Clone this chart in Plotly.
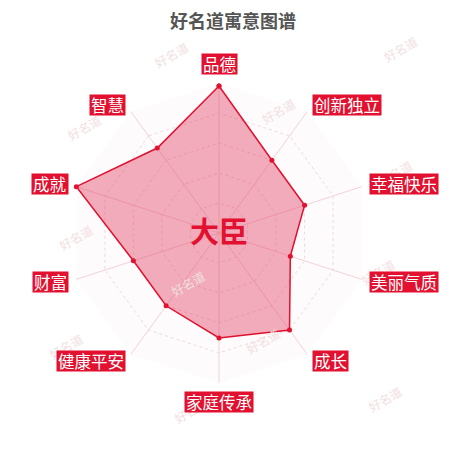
import math
import plotly.graph_objects as go

# dane wykresu
categories = ["品德", "创新独立", "幸福快乐", "美丽气质", "成长",
              "家庭传承", "健康平安", "财富", "成就", "智慧"]
scores = [98, 60, 60, 50, 80, 70, 60, 60, 100, 70]
name_text = "大臣"
chart_title = "好名道寓意图谱"

FONT = "Noto Sans CJK SC"
RED = "#e1112f"

# zamknij wielokat
theta = categories + categories[:1]
r = scores + scores[:1]

fig = go.Figure()
fig.add_trace(go.Scatterpolar(
    r=r,
    theta=theta,
    mode="lines+markers",
    fill="toself",
    fillcolor="rgba(226,60,95,0.42)",
    line=dict(color=RED, width=1.5),
    marker=dict(color=RED, size=5),
    hoverinfo="theta+r",
))

# wymiary: obszar wykresu 300x300, srodek w (211, 225)
W, H = 450, 450
ML, MR, MT, MB = 61, 89, 75, 75

fig.update_layout(
    width=W,
    height=H,
    margin=dict(l=ML, r=MR, t=MT, b=MB),
    paper_bgcolor="white",
    showlegend=False,
    font=dict(family=FONT),
    title=dict(
        text="<b>" + chart_title + "</b>",
        x=0.5, xref="container", xanchor="center",
        y=1 - 14 / H, yref="container", yanchor="middle",
        font=dict(size=18, color="#555555", family=FONT),
    ),
    polar=dict(
        domain=dict(x=[0, 1], y=[0, 1]),
        gridshape="linear",
        bgcolor="rgba(250,232,236,0.18)",
        radialaxis=dict(
            range=[0, 100],
            tickvals=[20, 40, 60, 80, 100],
            showticklabels=False,
            ticks="",
            showline=False,
            gridcolor="#f0d8dd",
            griddash="dot",
            gridwidth=1,
        ),
        angularaxis=dict(
            rotation=90,
            direction="clockwise",
            showticklabels=False,
            ticks="",
            showline=False,
            gridcolor="#f2d3d9",
            gridwidth=1,
        ),
    ),
)

# znaki wodne "好名道"
watermarks = [(163, 27), (415, 21), (293, 83), (53, 100), (410, 145),
              (45, 230), (157, 295), (393, 283), (278, 352), (35, 358),
              (400, 410), (160, 422)]
annotations = []
for px, py in watermarks:
    annotations.append(dict(
        text="好名道", x=(px - ML) / 300, y=(375 - py) / 300,
        xref="paper", yref="paper", showarrow=False, textangle=-30,
        font=dict(size=12, color="#f1e0e0", family=FONT),
    ))

# etykiety kategorii w czerwonych ramkach
lab_r = 0.5 * 158 / 150
for i, cat in enumerate(categories):
    a = math.radians(90 - i * 360 / len(categories))
    ca, sa = math.cos(a), math.sin(a)
    if ca > 0.01:
        xa = "left"
    elif ca < -0.01:
        xa = "right"
    else:
        xa = "center"
    if i == 0:
        ya = "bottom"
    elif i == len(categories) // 2:
        ya = "top"
    else:
        ya = "middle"
    annotations.append(dict(
        text=cat, x=0.5 + lab_r * ca, y=0.5 + lab_r * sa,
        xref="paper", yref="paper", xanchor=xa, yanchor=ya,
        showarrow=False, bgcolor=RED, borderpad=1, height=18,
        font=dict(size=16.5, color="white", family=FONT),
    ))

# nazwa w srodku
annotations.append(dict(
    text="<b>" + name_text + "</b>", x=0.5, y=0.5 + 3 / 300,
    xref="paper", yref="paper", showarrow=False,
    font=dict(size=29, color=RED, family=FONT),
))

fig.update_layout(annotations=annotations)
fig.write_html("out.html")
